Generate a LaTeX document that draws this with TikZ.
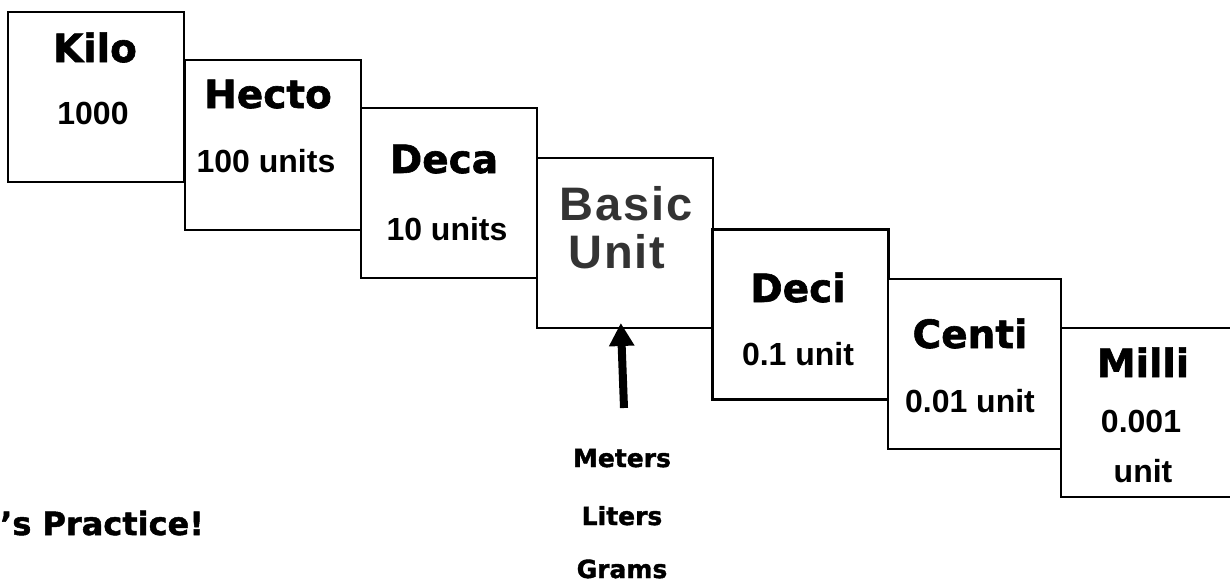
\documentclass[tikz,border=0pt]{standalone}
\usepackage{fontspec}
\setmainfont{Liberation Sans}
\newfontfamily\roundfont[FakeBold=1.5]{DejaVu Sans}
\newfontfamily\basicfont[LetterSpace=4]{Liberation Sans}
\usetikzlibrary{arrows.meta}
\tikzset{
  unitbox/.style={draw=black, line width=2.4pt, fill=white, rectangle, inner sep=0pt, outer sep=0pt,
    minimum width=176pt, minimum height=170pt},
  ttl/.style={anchor=base, inner sep=0pt, font=\roundfont\bfseries\fontsize{39}{41}\selectfont},
  sub/.style={anchor=base, inner sep=0pt, font=\bfseries\fontsize{32}{34}\selectfont},
  basic/.style={anchor=base, inner sep=0pt, text=black!80, font=\basicfont\bfseries\fontsize{47}{48}\selectfont},
  small/.style={anchor=base, inner sep=0pt, font=\roundfont\bfseries\fontsize{25}{27}\selectfont},
  bigarrow/.style={line width=8pt, -{Triangle[width=24pt,length=23pt]}},
  edge/.style={line width=2.4pt, line cap=rect}
}
\begin{document}
\begin{tikzpicture}[x=1pt,y=-1pt]
\useasboundingbox (0,0) rectangle (1230,584);
% boxes
\node[unitbox] (kilo) at (96,97) {};
\node[unitbox] (hecto) at (273,145) {};
\node[unitbox] (deca) at (449,193) {};
\node[unitbox] (basicbox) at (625,243) {};
\node[unitbox] (deci) at (800.5,314.5) {};
\node[unitbox, minimum width=173pt] (centi) at (974.5,364) {};
\coordinate (mtr) at (1230,328);
\coordinate (mtl) at (1061,328);
\coordinate (mbl) at (1061,497);
\coordinate (mbr) at (1230,497);
\draw[edge, fill=white] (mtr) -- (mtl) -- (mbl) -- (mbr);
% labels
\node[ttl] (kilot) at (95,62) {Kilo};
\node[sub] (kilos) at (93,124) {1000};
\node[ttl] (hectot) at (268,108) {Hecto};
\node[sub] (hectos) at (266,172) {100 units};
\node[ttl] (decat) at (444,173) {Deca};
\node[sub] (decas) at (447,240) {10 units};
\node[basic] (basict) at (626,220) {Basic};
\node[basic] (unitt) at (617,268) {Unit};
\node[ttl] (decit) at (798,302) {Deci};
\node[sub] (decis) at (798,365) {0.1 unit};
\node[ttl] (centit) at (970,348) {Centi};
\node[sub] (centis) at (970,412) {0.01 unit};
\node[ttl] (millit) at (1143,377) {Milli};
\node[sub] (millis) at (1141,432) {0.001};
\node[sub] (milliu) at (1143,482) {unit};
% arrow and base units
\coordinate (arrowbase) at (624,408);
\draw[bigarrow, shorten >=-5pt] (arrowbase) -- ([xshift=-4pt]basicbox.south);
\node[small] (meters) at (622,467) {Meters};
\node[small] (liters) at (622,525) {Liters};
\node[small] (grams) at (622,578) {Grams};
\node[anchor=base west, inner sep=0pt, font=\roundfont\bfseries\fontsize{32}{34}\selectfont] (practice) at (0,535) {’s Practice!};
\end{tikzpicture}
\end{document}
